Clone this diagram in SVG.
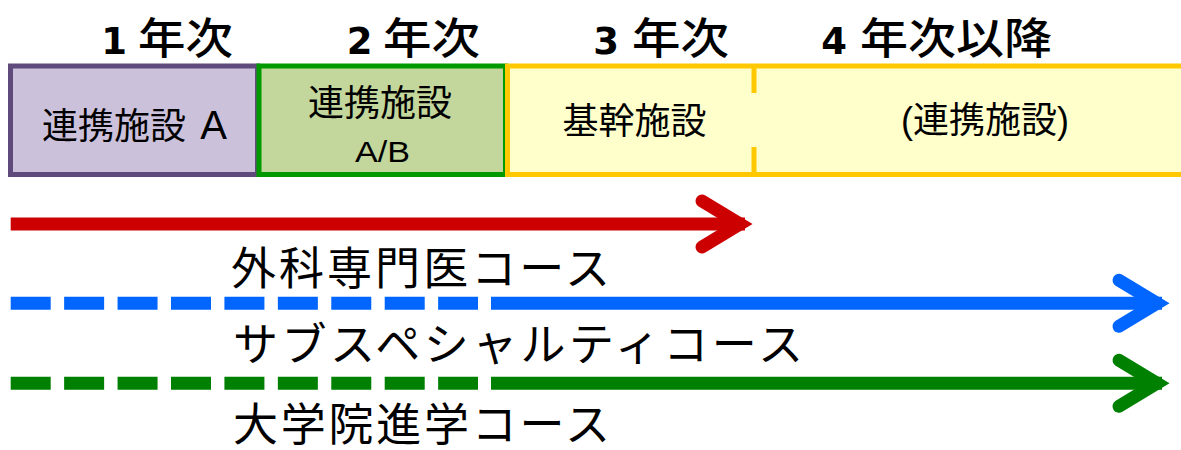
<svg xmlns="http://www.w3.org/2000/svg" xmlns:xlink="http://www.w3.org/1999/xlink" width="1181" height="450" viewBox="0 0 1181 450">
<style>
.jp{font-family:'Noto Sans CJK JP','Noto Sans CJK SC',sans-serif;fill:#000}
.lat{font-family:'Liberation Sans',Arial,sans-serif;fill:#000}
.num{font-family:'DejaVu Sans',sans-serif;font-weight:bold;font-size:37px;fill:#000}
.hd{font-size:43px;font-weight:500}
.bx{font-size:36px}
.lbl{font-size:45px}
.line{fill:none;stroke-width:13}
.chev{fill:none;stroke-width:13;stroke-linecap:round;stroke-linejoin:miter;stroke-miterlimit:10}
</style>
<defs>
<path id="chev" d="M-51,-23 L-13,0 L-51,23"/>
</defs>
<rect width="1181" height="450" fill="#fff"/>
<g id="headers">
<text class="num" x="114" y="53.5" text-anchor="middle">1</text>
<text class="jp hd" x="138" y="54" textLength="95" lengthAdjust="spacingAndGlyphs">年次</text>
<text class="num" x="359.5" y="53.5" text-anchor="middle">2</text>
<text class="jp hd" x="383" y="54" textLength="97" lengthAdjust="spacingAndGlyphs">年次</text>
<text class="num" x="606" y="53.5" text-anchor="middle">3</text>
<text class="jp hd" x="632" y="54" textLength="97" lengthAdjust="spacingAndGlyphs">年次</text>
<text class="num" x="834" y="53.5" text-anchor="middle">4</text>
<text class="jp hd" x="860" y="54" textLength="192" lengthAdjust="spacingAndGlyphs">年次以降</text>
</g>
<g id="box-a">
<rect x="10.5" y="66" width="247" height="108.5" fill="#CCC1DA" stroke="#604A7B" stroke-width="5"/>
<text class="jp bx" x="42" y="139">連携施設</text>
<text class="lat" x="213.5" y="138.5" font-size="40" text-anchor="middle">A</text>
</g>
<g id="box-ab">
<rect x="259" y="66" width="246.5" height="108.5" fill="#C3D69B" stroke="#009900" stroke-width="5"/>
<text class="jp bx" x="380" y="116" text-anchor="middle">連携施設</text>
<text class="lat" x="355" y="162" font-size="30" textLength="55" lengthAdjust="spacingAndGlyphs">A/B</text>
</g>
<g id="box-core">
<rect x="507.5" y="66" width="700" height="108.5" fill="#FFFFCC" stroke="#FFC800" stroke-width="5"/>
<path d="M754,66 V93 M754,147 V174.5" stroke="#FFC800" stroke-width="5" fill="none"/>
<text class="jp bx" x="634.5" y="134" text-anchor="middle">基幹施設</text>
<text class="jp bx" x="901" y="133"><tspan class="lat">(</tspan>連携施設<tspan class="lat">)</tspan></text>
</g>
<g id="connectors">
<path class="line" stroke="#CC0000" d="M10.7,224 H745"/>
<use xlink:href="#chev" class="chev" stroke="#CC0000" transform="translate(753,224)"/>
<path class="line" stroke="#0066FF" stroke-dasharray="40 13.43" d="M10.7,303.3 H478"/>
<path class="line" stroke="#0066FF" d="M491,303.3 H1162"/>
<use xlink:href="#chev" class="chev" stroke="#0066FF" transform="translate(1170,303.3)"/>
<path class="line" stroke="#008000" stroke-dasharray="40 13.43" d="M10.7,383.3 H478"/>
<path class="line" stroke="#008000" d="M491,383.3 H1162"/>
<use xlink:href="#chev" class="chev" stroke="#008000" transform="translate(1170,383.3)"/>
</g>
<g id="labels">
<text class="jp lbl" x="231" y="285" textLength="379" lengthAdjust="spacing">外科専門医コース</text>
<text class="jp lbl" x="233" y="361" textLength="570" lengthAdjust="spacing">サブスペシャルティコース</text>
<text class="jp lbl" x="233" y="441" textLength="377" lengthAdjust="spacing">大学院進学コース</text>
</g>
</svg>
